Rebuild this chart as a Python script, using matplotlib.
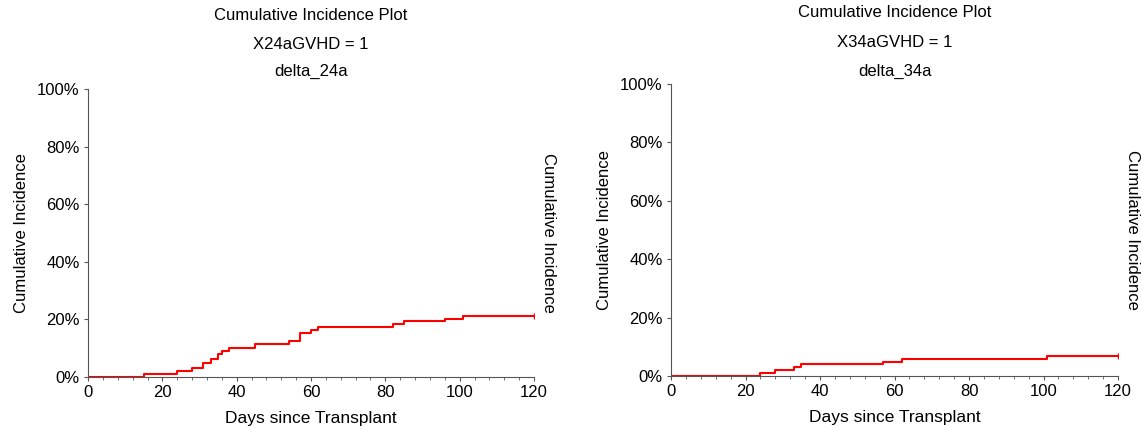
import numpy as np
import matplotlib
matplotlib.use('Agg')
from matplotlib import pyplot
from matplotlib.ticker import MultipleLocator, PercentFormatter

pyplot.rcParams['font.family'] = ['Liberation Sans', 'DejaVu Sans']
pyplot.rcParams['font.size'] = 12

# step times (days) and cumulative incidence (%)
days_24a = [0, 15, 24, 28, 31, 33, 35, 36, 38, 45, 54, 57, 60, 62, 82, 85, 96, 101, 120]
ci_24a = [0, 1.1, 2.0, 3.0, 5.0, 6.1, 8.1, 9.2, 10.2, 11.3, 12.4, 15.3, 16.3, 17.3, 18.3, 19.3, 20.3, 21.3, 21.3]

days_34a = [0, 24, 28, 33, 35, 57, 62, 101, 120]
ci_34a = [0, 0.9, 1.9, 3.0, 4.0, 4.9, 5.9, 7.0, 7.0]

panels = [
    {'days': days_24a, 'ci': ci_24a, 'group': 'X24aGVHD = 1', 'name': 'delta_24a',
     'rect': [0.0771, 0.1212, 0.3905, 0.671], 'title_y': [0.963, 0.897, 0.834]},
    {'days': days_34a, 'ci': ci_34a, 'group': 'X34aGVHD = 1', 'name': 'delta_34a',
     'rect': [0.5876, 0.1235, 0.3914, 0.6807], 'title_y': [0.970, 0.902, 0.834]},
]

fig = pyplot.figure(figsize=(11.42, 4.29), dpi=100)

for p in panels:
    ax = fig.add_axes(p['rect'])
    ax.step(p['days'], p['ci'], where='post', color='red', lw=1.5)
    # censor mark at end of follow-up
    ax.plot(p['days'][-1], p['ci'][-1], marker='|', color='red', ms=5, mew=1)
    ax.set_xlim(0, 120)
    ax.set_ylim(0, 100)
    ax.xaxis.set_major_locator(MultipleLocator(20))
    ax.xaxis.set_minor_locator(MultipleLocator(4))
    ax.yaxis.set_major_locator(MultipleLocator(20))
    ax.yaxis.set_major_formatter(PercentFormatter(decimals=0))
    for side in ['top', 'right']:
        ax.spines[side].set_visible(False)
    for side in ['left', 'bottom']:
        ax.spines[side].set_color('#555555')
        ax.spines[side].set_linewidth(0.8)
    ax.tick_params(which='major', length=3, color='#555555', labelsize=12, pad=3)
    ax.tick_params(which='minor', length=2, color='#555555')
    ax.set_xlabel('Days since Transplant', fontsize=12.5, labelpad=8)
    ax.set_ylabel('Cumulative Incidence', fontsize=12, labelpad=6)
    ax.text(1.015, 0.5, 'Cumulative Incidence', rotation=-90, transform=ax.transAxes,
            ha='left', va='center', fontsize=12)
    cx = p['rect'][0] + p['rect'][2] / 2
    for txt, ty in zip(['Cumulative Incidence Plot', p['group'], p['name']], p['title_y']):
        fig.text(cx, ty, txt, ha='center', va='center', fontsize=12)

fig.savefig('out.png', dpi=100)
